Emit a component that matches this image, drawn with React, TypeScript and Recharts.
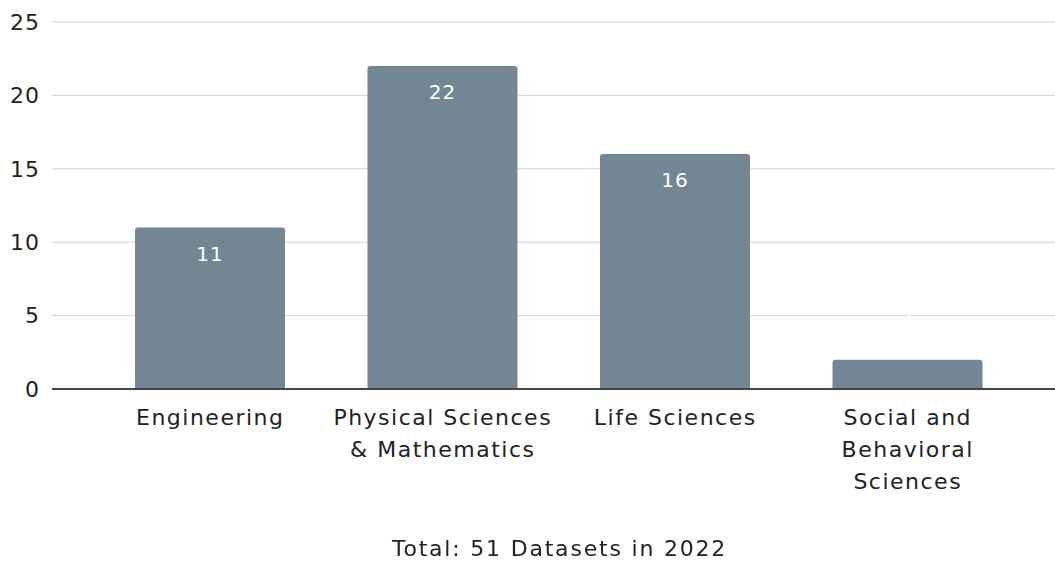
import { Bar, BarChart, CartesianGrid, LabelList, XAxis, YAxis } from "recharts"

const categories = ["Engineering", "Physical Sciences & Mathematics", "Life Sciences", "Social and Behavioral Sciences"]
const tickLines = [["Engineering"], ["Physical Sciences", "& Mathematics"], ["Life Sciences"], ["Social and", "Behavioral", "Sciences"]]
const datasets = [11, 22, 16, 2]
const yTicks = [0, 5, 10, 15, 20, 25]
const caption = "Total: 51 Datasets in 2022"

const data = categories.map((name, i) => ({ name, value: datasets[i] }))

const font = "'DejaVu Sans', Verdana, sans-serif"

function CategoryTick(props: any) {
    const { x, y, index } = props
    const lines = tickLines[index] || []
    return (
        <text x={x} y={y} textAnchor="middle" fill="#222" fontSize={22} letterSpacing={1.5} fontFamily={font}>
            {lines.map((line, i) => (
                <tspan key={i} x={x} dy={i === 0 ? 28 : 32}>{line}</tspan>
            ))}
        </text>
    )
}

function ValueLabel(props: any) {
    const { x, y, width, height, value } = props
    const inside = height > 40
    const cy = inside ? y + 25 : y - 45
    return (
        <text x={x + width / 2} y={cy} dy={8} textAnchor="middle" fill="#fff" fontSize={20} letterSpacing={1} fontFamily={font}>
            {value}
        </text>
    )
}

export default function App() {
    return (
        <div style={{ position: "fixed", left: 0, top: 0, width: 1055, height: 563, background: "#fff" }}>
            <BarChart width={1055} height={563} data={data} margin={{ top: 22, right: 0, bottom: 0, left: 0 }}>
                <CartesianGrid stroke="#d4d4d4" vertical={false} />
                <XAxis
                    dataKey="name"
                    height={174}
                    padding={{ left: 42, right: 31 }}
                    axisLine={{ stroke: "#444", strokeWidth: 2 }}
                    tickLine={false}
                    interval={0}
                    tick={<CategoryTick />}
                />
                <YAxis
                    width={52}
                    domain={[0, 25]}
                    ticks={yTicks}
                    axisLine={false}
                    tickLine={false}
                    tickMargin={6}
                    tick={{ fill: "#222", fontSize: 22, letterSpacing: 1, fontFamily: font }}
                />
                <Bar dataKey="value" fill="#738693" barSize={150} radius={[3, 3, 0, 0]} isAnimationActive={false}>
                    <LabelList dataKey="value" content={<ValueLabel />} />
                </Bar>
            </BarChart>
            <div
                style={{
                    position: "absolute",
                    left: 0,
                    width: 1119,
                    top: 536,
                    textAlign: "center",
                    fontFamily: font,
                    fontSize: 22,
                    letterSpacing: 1.8,
                    color: "#222",
                }}
            >
                {caption}
            </div>
        </div>
    )
}
